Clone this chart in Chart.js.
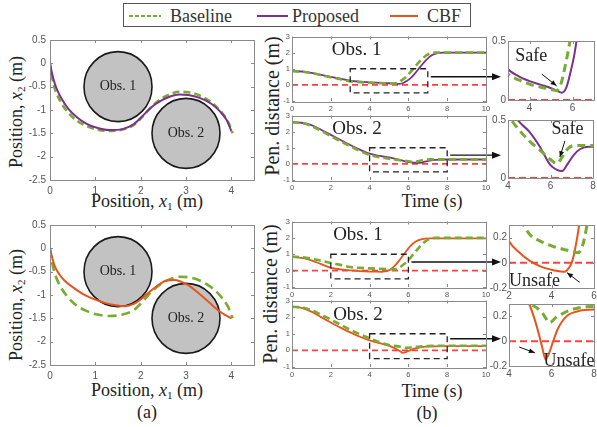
<!DOCTYPE html>
<html><head><meta charset="utf-8">
<script src="https://cdn.jsdelivr.net/npm/chart.js@4.4.0/dist/chart.umd.min.js"></script>
<style>
html,body{margin:0;padding:0;background:#fff;}
#fig{position:relative;width:597px;height:427px;overflow:hidden;font-family:"Liberation Serif","Times New Roman",serif;color:#222;}
.t{position:absolute;white-space:nowrap;transform:translate(-50%,-50%);line-height:1;}
.r{transform:translate(-50%,-50%) rotate(-90deg);}
sub{font-size:62%;vertical-align:-0.25em;}
canvas{position:absolute;}
#legend{position:absolute;left:123px;top:3px;width:346px;height:22px;border:1.5px solid #555;background:#fff;}
#legend span{position:absolute;top:12px;transform:translateY(-50%);font-size:18px;color:#333;line-height:1;}
#legend svg{position:absolute;top:10px;}
</style></head><body><div id="fig">
<div id="legend">
<svg style="left:5px" width="32" height="4"><line x1="0" y1="2" x2="32" y2="2" stroke="#77AC30" stroke-width="2" stroke-dasharray="4,2"/></svg><span style="left:46px">Baseline</span>
<svg style="left:133px" width="31" height="4"><line x1="0" y1="2" x2="31" y2="2" stroke="#7E2F8E" stroke-width="2"/></svg><span style="left:168px">Proposed</span>
<svg style="left:266px" width="28" height="4"><line x1="0" y1="2" x2="28" y2="2" stroke="#E8541C" stroke-width="2"/></svg><span style="left:303px">CBF</span>
</div>
<div class="t r" style="left:16.5px;top:112px;font-size:18px">Position, <i>x</i><sub>2</sub> (m)</div>
<div class="t r" style="left:16.5px;top:305px;font-size:18px">Position, <i>x</i><sub>2</sub> (m)</div>
<div class="t" style="left:147px;top:202px;font-size:18px">Position, <i>x</i><sub>1</sub> (m)</div>
<div class="t" style="left:147px;top:391px;font-size:18px">Position, <i>x</i><sub>1</sub> (m)</div>
<div class="t" style="left:147px;top:412px;font-size:18px">(a)</div>
<div class="t r" style="left:272px;top:106px;font-size:20px">Pen. distance (m)</div>
<div class="t r" style="left:270px;top:294px;font-size:20px">Pen. distance (m)</div>
<div class="t" style="left:432px;top:201px;font-size:18px">Time (s)</div>
<div class="t" style="left:432px;top:391px;font-size:18px">Time (s)</div>
<div class="t" style="left:427px;top:413px;font-size:18px">(b)</div>
</div>
<script>
// ---------------- DATA ----------------
// trajectory plots (x1, x2)
const trajBaseline = [[0,0],[0.02,-0.15],[0.06,-0.37],[0.12,-0.58],[0.22,-0.8],[0.38,-1.03],[0.58,-1.22],[0.8,-1.34],[1.05,-1.42],[1.3,-1.45],[1.6,-1.42],[1.85,-1.32],[2.05,-1.13],[2.25,-0.92],[2.45,-0.76],[2.65,-0.66],[2.85,-0.61],[3.05,-0.62],[3.3,-0.69],[3.55,-0.83],[3.75,-1.01],[3.92,-1.24],[4.03,-1.5]];
const trajProposed = [[0,0],[0.03,-0.15],[0.08,-0.35],[0.15,-0.55],[0.25,-0.75],[0.4,-0.97],[0.6,-1.16],[0.8,-1.29],[1.0,-1.37],[1.3,-1.43],[1.6,-1.41],[1.85,-1.3],[2.05,-1.12],[2.25,-0.93],[2.45,-0.8],[2.65,-0.71],[2.85,-0.67],[3.05,-0.68],[3.3,-0.74],[3.55,-0.86],[3.75,-1.03],[3.9,-1.22],[4.0,-1.45]];
const trajCBF = [[0,0],[0.04,-0.17],[0.1,-0.37],[0.2,-0.55],[0.33,-0.7],[0.5,-0.83],[0.75,-0.99],[1.0,-1.1],[1.25,-1.18],[1.45,-1.22],[1.65,-1.24],[1.85,-1.19],[2.02,-1.08],[2.2,-0.93],[2.4,-0.78],[2.57,-0.69],[2.72,-0.68],[2.88,-0.71],[3.05,-0.79],[3.3,-0.98],[3.5,-1.15],[3.7,-1.32],[3.85,-1.42],[4.0,-1.5]];
const obstacleX = [1.5, 3.0];
const obstacleY = [-0.5, -1.5];
const obstacleR = [0.75, 0.75];
const obstacleLabel = ['Obs. 1', 'Obs. 2'];
// penetration distance vs time
const distBaselineObs1 = [[0,0.85],[0.5,0.82],[1,0.73],[1.5,0.6],[2,0.47],[2.5,0.35],[3,0.22],[3.5,0.17],[4,0.135],[4.5,0.11],[5,0.09],[5.25,0.08],[5.45,0.13],[5.65,0.28],[5.9,0.52],[6.2,0.92],[6.5,1.35],[6.8,1.72],[7.1,1.94],[7.4,2.0],[10,2.0]];
const distProposedObs1 = [[0,0.85],[0.5,0.83],[1,0.74],[1.5,0.62],[2,0.5],[2.5,0.38],[3,0.26],[3.5,0.2],[4,0.16],[4.5,0.13],[5,0.1],[5.3,0.075],[5.5,0.062],[5.7,0.1],[5.9,0.23],[6.1,0.4],[6.3,0.65],[6.6,1.1],[6.9,1.52],[7.2,1.84],[7.5,1.97],[7.8,2.0],[10,2.0]];
const distBaselineObs2 = [[0,2.58],[0.5,2.53],[1,2.35],[1.5,2.05],[2,1.72],[2.5,1.4],[3,1.1],[3.5,0.8],[4,0.55],[4.5,0.42],[5,0.32],[5.5,0.24],[6,0.16],[6.3,0.125],[6.55,0.18],[6.8,0.25],[7.1,0.28],[10,0.28]];
const distProposedObs2 = [[0,2.58],[0.5,2.55],[1,2.4],[1.5,2.12],[2,1.8],[2.5,1.48],[3,1.17],[3.5,0.88],[4,0.63],[4.5,0.49],[5,0.4],[5.5,0.27],[6,0.11],[6.3,0.07],[6.55,0.06],[6.8,0.12],[7.1,0.2],[7.4,0.25],[7.8,0.27],[10,0.27]];
const distCBFObs1 = [[0,0.85],[0.5,0.78],[1,0.63],[1.5,0.4],[2,0.174],[2.5,0.08],[3,0.013],[3.5,-0.03],[4,-0.055],[4.3,-0.065],[4.62,-0.072],[4.8,-0.045],[4.95,0],[5.1,0.1],[5.3,0.3],[5.5,0.58],[5.8,1.05],[6.1,1.5],[6.4,1.8],[6.7,1.93],[7.1,1.97],[10,1.97]];
const distBaselineObs2B = [[0,2.62],[0.5,2.58],[1,2.42],[1.5,2.15],[2,1.85],[2.5,1.55],[3,1.25],[3.5,0.97],[4,0.73],[4.5,0.5],[5.06,0.3],[5.3,0.27],[5.6,0.22],[5.92,0.15],[6.2,0.19],[6.5,0.22],[6.8,0.245],[7.3,0.27],[8,0.28],[10,0.28]];
const distCBFObs2 = [[0,2.62],[0.5,2.56],[1,2.33],[1.5,2.0],[2,1.68],[2.5,1.37],[3,1.08],[3.5,0.82],[4,0.6],[4.5,0.43],[4.95,0.3],[5.2,0.18],[5.4,0.06],[5.55,-0.04],[5.72,-0.146],[5.9,-0.09],[6.08,0],[6.3,0.1],[6.7,0.2],[7.2,0.24],[8,0.255],[10,0.255]];
const safeLimit = 0;
// tick values
const trajTicksX = [0,1,2,3,4];
const trajTicksY = [-2.5,-2,-1.5,-1,-0.5,0,0.5];
const timeTicksX = [0,2,4,6,8,10];
const timeTicksY = [-1,0,1,2,3];
const zoomTicksX1 = [4,6];
const zoomTicksX2 = [4,6,8];
const zoomTicksX3 = [2,4,6];
const zoomTicksX4 = [4,6,8];
const zoomTicksYSafe = [0,0.5];
const zoomTicksYUnsafe = [-0.2,0,0.2];

// ---------------- STYLE ----------------
const C = {base:'#77AC30', prop:'#7E2F8E', cbf:'#E8541C', ref:'#FF4040'};
Chart.defaults.font.family = '"Liberation Sans", Arial, sans-serif';
Chart.defaults.color = '#555';
const fig = document.getElementById('fig');
const pts = a => a.map(p => ({x:p[0], y:p[1]}));

function ds(data, color, width, dash, clip) {
  return {data: pts(data), borderColor: color, borderWidth: width, borderDash: dash || [],
    pointRadius: 0, fill: false, cubicInterpolationMode: 'monotone', clip: clip === undefined ? 0 : clip};
}
function refLine(xmin, xmax, width, dash) {
  return ds([[xmin, safeLimit],[xmax, safeLimit]], C.ref, width, dash, 3);
}

function arrowHead(ctx, x1, y1, x2, y2, len, half) {
  const a = Math.atan2(y2 - y1, x2 - x1);
  ctx.beginPath();
  ctx.moveTo(x2, y2);
  ctx.lineTo(x2 - len*Math.cos(a) + half*Math.sin(a), y2 - len*Math.sin(a) - half*Math.cos(a));
  ctx.lineTo(x2 - len*Math.cos(a) - half*Math.sin(a), y2 - len*Math.sin(a) + half*Math.cos(a));
  ctx.closePath(); ctx.fill();
}

function annot(a) {
  return {
    id: 'annot',
    beforeDatasetsDraw(chart) {
      const {ctx, scales:{x, y}} = chart;
      (a.circles || []).forEach(c => {
        const cx = x.getPixelForValue(c.x), cy = y.getPixelForValue(c.y);
        const rx = Math.abs(x.getPixelForValue(c.x + c.r) - cx), ry = Math.abs(y.getPixelForValue(c.y + c.r) - cy);
        ctx.save();
        ctx.beginPath(); ctx.ellipse(cx, cy, rx, ry, 0, 0, 2*Math.PI);
        ctx.fillStyle = '#c2c2c2'; ctx.fill();
        ctx.lineWidth = 1.6; ctx.strokeStyle = '#1a1a1a'; ctx.stroke();
        ctx.fillStyle = '#222'; ctx.font = '14px "Liberation Serif"';
        ctx.textAlign = 'center'; ctx.textBaseline = 'middle';
        ctx.fillText(c.label, cx, cy);
        ctx.restore();
      });
    },
    afterDatasetsDraw(chart) {
      const {ctx, chartArea, scales:{x, y}} = chart;
      ctx.save();
      (a.rects || []).forEach(r => {
        const x1 = x.getPixelForValue(r.x1), x2 = x.getPixelForValue(r.x2);
        const y1 = y.getPixelForValue(r.y1), y2 = y.getPixelForValue(r.y2);
        ctx.setLineDash([6,4]); ctx.lineWidth = 1.3; ctx.strokeStyle = '#222';
        ctx.strokeRect(x1, y2, x2 - x1, y1 - y2);
        ctx.setLineDash([]);
        if (r.arrowY !== undefined) {
          const ay = y.getPixelForValue(r.arrowY);
          const sx = x2 + 3, ex = chartArea.right + 15;
          ctx.lineWidth = 1.4; ctx.strokeStyle = '#111'; ctx.fillStyle = '#111';
          ctx.beginPath(); ctx.moveTo(sx, ay); ctx.lineTo(ex - 6, ay); ctx.stroke();
          arrowHead(ctx, sx, ay, ex, ay, 9, 3.5);
        }
      });
      (a.texts || []).forEach(t => {
        ctx.fillStyle = '#222'; ctx.font = t.size + 'px "Liberation Serif"';
        ctx.textAlign = 'center'; ctx.textBaseline = 'middle';
        ctx.fillText(t.text, x.getPixelForValue(t.x), y.getPixelForValue(t.y));
      });
      (a.pointers || []).forEach(p => {
        const x1 = x.getPixelForValue(p.x1), y1 = y.getPixelForValue(p.y1);
        const x2 = x.getPixelForValue(p.x2), y2 = y.getPixelForValue(p.y2);
        ctx.lineWidth = 1; ctx.strokeStyle = '#111'; ctx.fillStyle = '#111';
        ctx.beginPath(); ctx.moveTo(x1, y1); ctx.lineTo(x2, y2); ctx.stroke();
        arrowHead(ctx, x1, y1, x2, y2, 6, 2.5);
      });
      ctx.restore();
    },
    afterDraw(chart) {
      const {ctx, chartArea:ca, scales:{x, y}} = chart;
      ctx.save();
      ctx.strokeStyle = '#8a8a8a'; ctx.lineWidth = 1;
      ctx.strokeRect(Math.round(ca.left) + 0.5, Math.round(ca.top) + 0.5, Math.round(ca.right - ca.left), Math.round(ca.bottom - ca.top));
      const tl = a.tick || 3;
      ctx.beginPath();
      x.ticks.forEach(t => { const px = Math.round(x.getPixelForValue(t.value)) + 0.5;
        ctx.moveTo(px, ca.bottom); ctx.lineTo(px, ca.bottom - tl); ctx.moveTo(px, ca.top); ctx.lineTo(px, ca.top + tl); });
      y.ticks.forEach(t => { const py = Math.round(y.getPixelForValue(t.value)) + 0.5;
        ctx.moveTo(ca.left, py); ctx.lineTo(ca.left + tl, py); ctx.moveTo(ca.right, py); ctx.lineTo(ca.right - tl, py); });
      ctx.stroke();
      ctx.restore();
    }
  };
}

function panel(box, p) {
  const yw = p.yw, xh = p.xh, pt = p.pt, pr = p.pr;
  const W = box.R - box.L, H = box.B - box.T;
  const cw = W + yw + pr, ch = H + pt + xh;
  const c = document.createElement('canvas');
  c.width = cw; c.height = ch;
  c.style.left = (box.L - yw) + 'px'; c.style.top = (box.T - pt) + 'px';
  c.style.width = cw + 'px'; c.style.height = ch + 'px';
  fig.appendChild(c);
  const fmt = v => String(+(+v).toFixed(2));
  new Chart(c, {
    type: 'line',
    data: {datasets: p.datasets},
    options: {
      responsive: false, animation: false, devicePixelRatio: 1, events: [],
      layout: {padding: {top: pt, right: pr, left: 0, bottom: 0}},
      scales: {
        x: {type: 'linear', min: p.xr[0], max: p.xr[1],
          afterBuildTicks: s => { s.ticks = p.xt.map(v => ({value: v})); },
          afterFit: s => { s.height = xh; },
          grid: {display: false, drawTicks: false}, border: {display: false},
          ticks: {font: {size: p.fs}, padding: p.xpad, maxRotation: 0, autoSkip: false, callback: fmt}},
        y: {type: 'linear', min: p.yr[0], max: p.yr[1],
          afterBuildTicks: s => { s.ticks = p.yt.map(v => ({value: v})); },
          afterFit: s => { s.width = yw; },
          grid: {display: false, drawTicks: false}, border: {display: false},
          ticks: {font: {size: p.fs}, padding: p.ypad, autoSkip: false, callback: fmt}}
      },
      plugins: {legend: {display: false}, tooltip: {enabled: false}}
    },
    plugins: [annot(p.annot || {})]
  });
}

const circles = obstacleX.map((v, i) => ({x: v, y: obstacleY[i], r: obstacleR[i], label: obstacleLabel[i]}));
const trajCommon = {xr: [0, 4.5], yr: [-2.5, 0.5], xt: trajTicksX, yt: trajTicksY, yw: 30, xh: 18, pt: 8, pr: 10, fs: 10, xpad: 5, ypad: 4};
panel({L:50, T:38, R:254, B:180}, Object.assign({}, trajCommon, {
  datasets: [ds(trajProposed, C.prop, 2), ds(trajBaseline, C.base, 2.6, [7,4])],
  annot: {circles}}));
panel({L:50, T:223, R:254, B:365}, Object.assign({}, trajCommon, {
  datasets: [ds(trajCBF, C.cbf, 2), ds(trajBaseline, C.base, 2.6, [9,5])],
  annot: {circles}}));

const timeCommon = {xr: [0, 10], yr: [-1, 3], xt: timeTicksX, yt: timeTicksY, yw: 12, xh: 12, pt: 6, pr: 22, fs: 7.5, xpad: 3, ypad: 2};
panel({L:292, T:36, R:486, B:101}, Object.assign({}, timeCommon, {
  datasets: [ds(distBaselineObs1, C.base, 2.6, [7,4]), ds(distProposedObs1, C.prop, 1.8), refLine(0, 10, 1.6, [6,4])],
  annot: {rects: [{x1:3, x2:7, y1:-0.5, y2:1, arrowY:0.5}], texts: [{x:3.33, y:2.15, text:'Obs. 1', size:19}]}}));
panel({L:292, T:115, R:486, B:180}, Object.assign({}, timeCommon, {
  datasets: [ds(distBaselineObs2, C.base, 2.6, [7,4]), ds(distProposedObs2, C.prop, 1.8), refLine(0, 10, 1.6, [6,4])],
  annot: {rects: [{x1:4, x2:8, y1:-0.5, y2:1, arrowY:0.54}], texts: [{x:3.35, y:2.15, text:'Obs. 2', size:19}]}}));
panel({L:292, T:221, R:486, B:287}, Object.assign({}, timeCommon, {
  datasets: [ds(distBaselineObs1, C.base, 2.6, [7,4]), ds(distCBFObs1, C.cbf, 1.8), refLine(0, 10, 1.6, [6,4])],
  annot: {rects: [{x1:2, x2:6, y1:-0.5, y2:1, arrowY:0.53}], texts: [{x:3.4, y:2.2, text:'Obs. 1', size:19}]}}));
panel({L:292, T:300, R:486, B:367}, Object.assign({}, timeCommon, {
  datasets: [ds(distBaselineObs2B, C.base, 2.6, [7,4]), ds(distCBFObs2, C.cbf, 1.8), refLine(0, 10, 1.6, [6,4])],
  annot: {rects: [{x1:4, x2:8, y1:-0.5, y2:1, arrowY:0.7}], texts: [{x:3.4, y:2.15, text:'Obs. 2', size:19}]}}));

const zoomCommon = {yw: 24, xh: 14, pt: 6, pr: 6, fs: 10, xpad: 2, ypad: 2};
panel({L:508, T:39, R:594, B:100}, Object.assign({}, zoomCommon, {
  xr: [3, 7], yr: [0, 0.5], xt: zoomTicksX1, yt: zoomTicksYSafe,
  datasets: [ds(distBaselineObs1, C.base, 3, [8,5]), ds(distProposedObs1, C.prop, 2), refLine(3, 7, 2, [7,4])],
  annot: {texts: [{x:4.08, y:0.37, text:'Safe', size:18}], pointers: [{x1:4.57, y1:0.22, x2:5.26, y2:0.12}]}}));
panel({L:508, T:118, R:593, B:178}, Object.assign({}, zoomCommon, {
  xr: [4, 8], yr: [0, 0.5], xt: zoomTicksX2, yt: zoomTicksYSafe,
  datasets: [ds(distBaselineObs2, C.base, 3, [8,5]), ds(distProposedObs2, C.prop, 2), refLine(4, 8, 2, [7,4])],
  annot: {texts: [{x:6.8, y:0.42, text:'Safe', size:18}], pointers: [{x1:6.68, y1:0.32, x2:6.44, y2:0.18}]}}));
panel({L:509, T:223, R:594, B:288}, Object.assign({}, zoomCommon, {
  xr: [2, 6], yr: [-0.2, 0.3], xt: zoomTicksX3, yt: zoomTicksYUnsafe,
  datasets: [ds(distBaselineObs1, C.base, 3, [8,5]), ds(distCBFObs1, C.cbf, 2), refLine(2, 6, 2, [7,4])],
  annot: {texts: [{x:3.2, y:-0.148, text:'Unsafe', size:18}], pointers: [{x1:5.33, y1:-0.156, x2:4.73, y2:-0.078}]}}));
panel({L:509, T:302, R:594, B:366}, Object.assign({}, zoomCommon, {
  xr: [4, 8], yr: [-0.2, 0.3], xt: zoomTicksX4, yt: zoomTicksYUnsafe,
  datasets: [ds(distBaselineObs2B, C.base, 3, [8,5]), ds(distCBFObs2, C.cbf, 2), refLine(4, 8, 2, [7,4])],
  annot: {texts: [{x:6.82, y:-0.16, text:'Unsafe', size:18}], pointers: [{x1:4.48, y1:-0.047, x2:5.22, y2:-0.094}]}}));
</script>
</body></html>
